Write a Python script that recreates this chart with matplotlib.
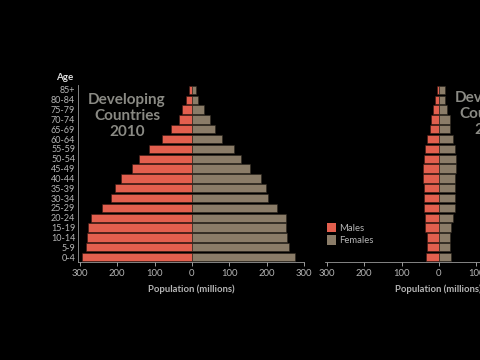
import numpy as np
import matplotlib
matplotlib.use("Agg")
import matplotlib.pyplot as plt
from matplotlib.patches import Patch

plt.rcParams['font.family'] = ['Lato', 'DejaVu Sans']

# age groups, youngest first
ages = ['0-4', '5-9', '10-14', '15-19', '20-24', '25-29', '30-34', '35-39',
        '40-44', '45-49', '50-54', '55-59', '60-64', '65-69', '70-74',
        '75-79', '80-84', '85+']

# developing countries 2010 (millions)
dev_males = [293, 283, 280, 277, 269, 240, 216, 205, 189, 160, 141, 115,
             80, 56, 35, 27, 16, 8]
dev_females = [276, 259, 255, 253, 253, 229, 203, 197, 184, 155, 131, 112,
               80, 61, 48, 32, 16, 11]

# developed countries 2010 (millions)
ind_males = [35, 33, 33, 37, 38, 41, 41, 41, 43, 43, 41, 38, 33, 23, 20,
             16, 11, 6]
ind_females = [33, 30, 30, 33, 38, 42, 42, 42, 42, 47, 45, 42, 38, 29, 29,
               21, 17, 15]

ticks = [-300, -200, -100, 0, 100, 200, 300]

male_col = '#e25f4e'
female_col = '#8a7c68'
text_col = '#b5b5b5'
bg = 'black'

fig = plt.figure(figsize=(4.8, 3.6), dpi=100, facecolor=bg)

W, H = 480.0, 360.0
def add_axes(x0, x1, y0, y1):
    return fig.add_axes([x0 / W, 1 - y1 / H, (x1 - x0) / W, (y1 - y0) / H])

ax1 = add_axes(78, 304, 85, 262)
ax2 = add_axes(325, 551, 85, 262)

y = np.arange(len(ages))
for ax, m, f in [(ax1, dev_males, dev_females), (ax2, ind_males, ind_females)]:
    ax.set_facecolor(bg)
    ax.barh(y, -np.array(m), height=0.84, color=male_col, edgecolor='#3a1a14', linewidth=0.4)
    ax.barh(y, f, height=0.84, color=female_col, edgecolor='#2a241c', linewidth=0.4)
    ax.set_xlim(-305, 300)
    ax.set_ylim(-0.5, 17.5)
    ax.set_xticks(ticks)
    ax.set_xticklabels([str(abs(t)) for t in ticks])
    ax.tick_params(axis='x', colors=text_col, labelsize=6.8, length=3, width=0.6, pad=2)
    for s in ['top', 'right']:
        ax.spines[s].set_visible(False)
    ax.spines['bottom'].set_color('#9a9a9a')
    ax.spines['bottom'].set_linewidth(0.6)
    ax.set_xlabel('Population (millions)', color=text_col, fontsize=6.8, fontweight='bold', labelpad=5)

ax1.set_yticks(y)
ax1.set_yticklabels(ages)
ax1.tick_params(axis='y', colors=text_col, labelsize=6.5, length=0, pad=2)
ax1.spines['left'].set_color('#9a9a9a')
ax1.spines['left'].set_linewidth(0.6)

ax2.set_yticks([])
ax2.spines['left'].set_visible(False)

fig.text(73 / W, 1 - 77 / H, 'Age', color='#e0e0e0', fontsize=7, fontweight='bold',
         ha='right', va='center')

fig.text(127 / W, 1 - 116 / H, 'Developing\nCountries\n2010', color='#8a8a84',
         fontsize=11, fontweight='bold', ha='center', va='center',
         multialignment='center', linespacing=1.15)
fig.text(455 / W, 1 - 114 / H, 'Developed\nCountries\n2010', color='#8a8a84',
         fontsize=11, fontweight='bold', ha='left', va='center',
         multialignment='center', linespacing=1.15)

handles = [Patch(facecolor=male_col), Patch(facecolor=female_col)]
fig.legend(handles, ['Males', 'Females'], loc='upper left',
           bbox_to_anchor=(323 / W, 1 - 219 / H), frameon=False,
           fontsize=6.8, labelcolor=text_col, handlelength=1.0, handleheight=1.2,
           handletextpad=0.3, labelspacing=0.25, borderaxespad=0)

fig.savefig('out.png', dpi=100, facecolor=bg)
